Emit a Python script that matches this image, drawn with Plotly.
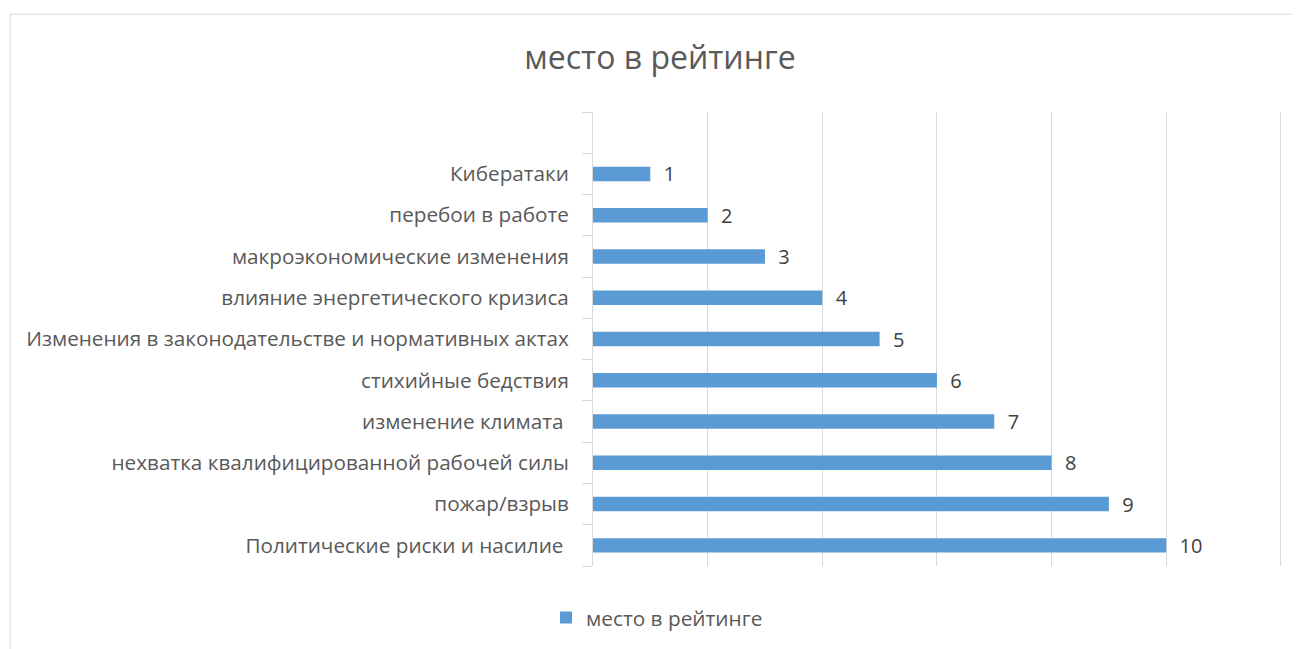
import plotly.graph_objects as go

categories = [
    "Политические риски и насилие ",
    "пожар/взрыв",
    "нехватка квалифицированной рабочей силы",
    "изменение климата ",
    "стихийные бедствия",
    "Изменения в законодательстве и нормативных актах",
    "влияние энергетического кризиса",
    "макроэкономические изменения",
    "перебои в работе",
    "Кибератаки",
]
values = [10, 9, 8, 7, 6, 5, 4, 3, 2, 1]
series_name = "место в рейтинге"
title_text = "место в рейтинге"

FONT = "Open Sans, Noto Sans, sans-serif"

# page is offset by the 8px body margin
OFF = 8
W, H = 1300 - OFF, 649 - OFF
L = 593 - OFF
R = W - (1282 - OFF)
T = 112 - OFF
B = H - (567 - OFF)
pw = W - L - R
ph = H - T - B

def px_x(px):
    return (px - OFF - L) / pw

def px_y(py):
    return (H - B - (py - OFF)) / ph

fig = go.Figure()
fig.add_trace(go.Bar(
    y=categories,
    x=values,
    orientation="h",
    name=series_name,
    marker=dict(color="#5B9BD5", line=dict(width=0)),
    text=["  " + str(v) for v in values],
    textposition="outside",
    constraintext="none",
    textfont=dict(size=20, color="#404040", family=FONT),
    cliponaxis=False,
    showlegend=True,
))

fig.update_layout(
    width=W, height=H,
    margin=dict(l=L, r=R, t=T, b=B, pad=0),
    paper_bgcolor="white",
    plot_bgcolor="white",
    font=dict(family=FONT, color="#595959"),
    title=dict(text=title_text, x=(660 - OFF) / W, xref="container", xanchor="center",
               y=1 - (58 - OFF) / H, yref="container", yanchor="middle",
               font=dict(size=32, color="#595959", family=FONT)),
    bargap=0.65,
    showlegend=True,
    legend=dict(orientation="h", x=px_x(657), xanchor="center",
                y=px_y(618), yanchor="middle",
                font=dict(size=20.8, color="#595959", family=FONT),
                itemwidth=30),
    xaxis=dict(range=[0, 12.02], tickvals=[0, 2, 4, 6, 8, 10, 12],
               showticklabels=False, showgrid=True,
               gridcolor="#D9D9D9", gridwidth=1, zeroline=False, showline=False,
               ticks=""),
    yaxis=dict(type="category", categoryorder="array",
               categoryarray=categories + [" "],
               range=[-0.5, 10.5], showgrid=False, showline=True,
               linecolor="#D9D9D9", linewidth=1, ticks="outside", ticklen=10,
               tickcolor="#D9D9D9", tickson="boundaries",
               tickfont=dict(size=20.7, color="#595959", family=FONT),
               ticklabelstandoff=19),
    shapes=[dict(type="rect", xref="paper", yref="paper",
                 x0=px_x(10), x1=px_x(1330), y0=px_y(690), y1=px_y(14),
                 line=dict(color="#D9D9D9", width=1), fillcolor="rgba(0,0,0,0)",
                 layer="below")],
)

fig.write_html("out.html")
